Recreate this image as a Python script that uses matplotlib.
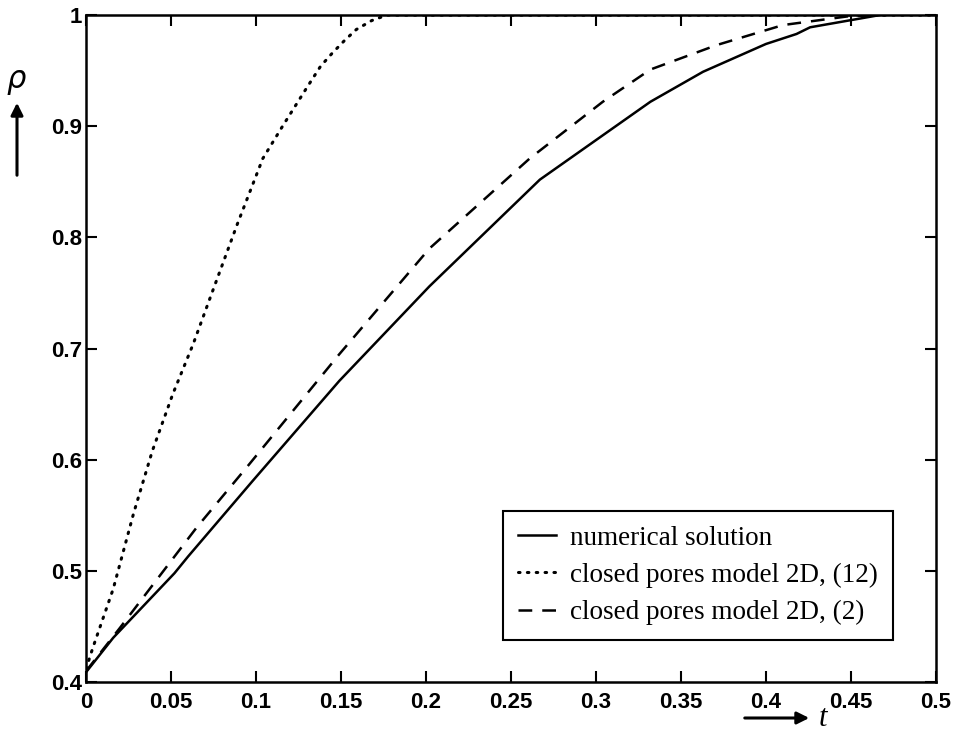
import numpy as np
import matplotlib
matplotlib.use('Agg')
from matplotlib import pyplot as plt
from matplotlib.patches import FancyArrowPatch

# values
t_num = [0, 0.016, 0.052, 0.060, 0.098, 0.149, 0.202, 0.267, 0.332, 0.363, 0.400, 0.418, 0.426, 0.467]
rho_num = [0.409, 0.44, 0.498, 0.513, 0.581, 0.671, 0.756, 0.852, 0.922, 0.949, 0.974, 0.983, 0.989, 1.0]

t_12 = [0, 0.004, 0.016, 0.028, 0.039, 0.051, 0.063, 0.075, 0.089, 0.104, 0.116, 0.130,
        0.138, 0.145, 0.152, 0.159, 0.168, 0.177, 0.5]
rho_12 = [0.412, 0.431, 0.484, 0.552, 0.608, 0.659, 0.704, 0.754, 0.812, 0.871, 0.901, 0.935,
          0.954, 0.966, 0.977, 0.987, 0.995, 1.0, 1.0]

t_2 = [0, 0.02, 0.065, 0.096, 0.149, 0.202, 0.261, 0.304, 0.332, 0.371, 0.410, 0.449, 0.47]
rho_2 = [0.410, 0.449, 0.539, 0.596, 0.695, 0.790, 0.871, 0.922, 0.951, 0.973, 0.991, 0.999, 1.0]

xticks = [0, 0.05, 0.1, 0.15, 0.2, 0.25, 0.3, 0.35, 0.4, 0.45, 0.5]
xlabels = ['0', '0.05', '0.1', '0.15', '0.2', '0.25', '0.3', '0.35', '0.4', '0.45', '0.5']
yticks = [0.4, 0.5, 0.6, 0.7, 0.8, 0.9, 1.0]
ylabels = ['0.4', '0.5', '0.6', '0.7', '0.8', '0.9', '1']

fig = plt.figure(figsize=(9.56, 7.53), dpi=100)
ax = fig.add_axes([0.090, 0.094, 0.889, 0.886])

ax.plot(t_num, rho_num, color='k', lw=1.8, ls='-', label='numerical solution')
ax.plot(t_12, rho_12, color='k', lw=2.2, ls=(0, (0.5, 2.4)), dash_capstyle='round',
        label='closed pores model 2D, (12)')
ax.plot(t_2, rho_2, color='k', lw=1.8, ls=(0, (5.5, 4)), label='closed pores model 2D, (2)')

ax.set_xlim(0, 0.5)
ax.set_ylim(0.4, 1.0)
ax.set_xticks(xticks)
ax.set_xticklabels(xlabels)
ax.set_yticks(yticks)
ax.set_yticklabels(ylabels)
ax.tick_params(direction='in', length=8, width=1.5, top=True, right=True,
               labelsize=16, pad=3)
ax.tick_params(axis='x', pad=7)
for lab in ax.get_xticklabels() + ax.get_yticklabels():
    lab.set_family('Liberation Sans')
    lab.set_weight('bold')
for s in ax.spines.values():
    s.set_linewidth(1.8)

leg = ax.legend(loc='lower right', bbox_to_anchor=(0.949, 0.063), borderaxespad=0,
                prop={'family': 'Liberation Serif', 'size': 19.5},
                frameon=True, fancybox=False, edgecolor='k', framealpha=1,
                handlelength=1.4, handletextpad=0.5, labelspacing=0.45,
                borderpad=0.55)
leg.get_frame().set_linewidth(1.5)

# axis labels with arrows, as in the original
fig.text(17 / 956, 1 - 82 / 753, r'$\rho$', fontsize=22, ha='center', va='center',
         family='Liberation Sans', weight='bold', style='italic')
fig.add_artist(FancyArrowPatch(
    (17 / 956, 1 - 178 / 753), (17 / 956, 1 - 100 / 753),
    transform=fig.transFigure, arrowstyle='-|>', mutation_scale=18, lw=2.2, color='k'))
fig.text(823 / 956, 1 - 718 / 753, 't', fontsize=22, ha='center', va='center',
         family='Liberation Serif', style='italic')
fig.add_artist(FancyArrowPatch(
    (742 / 956, 1 - 718 / 753), (812 / 956, 1 - 718 / 753),
    transform=fig.transFigure, arrowstyle='-|>', mutation_scale=18, lw=2.2, color='k'))

plt.savefig('out.png', dpi=100)
